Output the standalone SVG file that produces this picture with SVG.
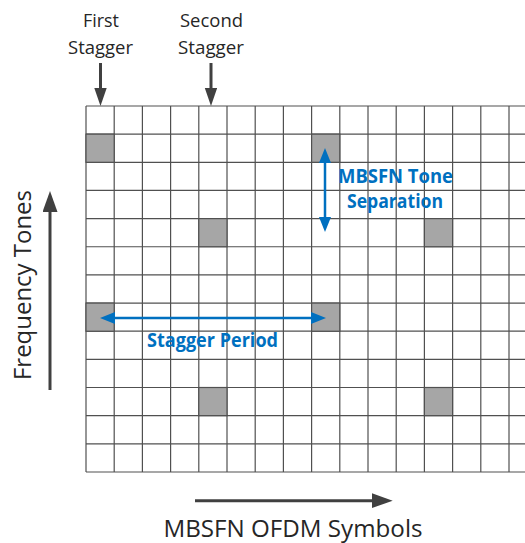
<svg xmlns="http://www.w3.org/2000/svg" width="525" height="543" viewBox="0 0 525 543">
  <defs>
    <style>
      .gl { stroke: #505050; stroke-width: 1.2; fill: none; }
      .cell { fill: #a6a6a6; stroke: #505050; stroke-width: 1.2; }
      .lbl { font-family: "Open Sans", "Noto Sans", "Liberation Sans", sans-serif; fill: #262626; }
      .blue { font-family: "Open Sans", "Noto Sans", "Liberation Sans", sans-serif; font-weight: bold; fill: #0070c0; }
      .dk { stroke: #404040; stroke-width: 3; fill: none; }
      .bl { stroke: #0070c0; stroke-width: 2.5; fill: none; }
    </style>
    <marker id="ahBig" markerUnits="userSpaceOnUse" markerWidth="22" markerHeight="16" refX="15" refY="7.5" orient="auto">
      <path d="M0,0 L21,7.5 L0,15 Z" fill="#404040"/>
    </marker>
    <marker id="ahSmall" markerUnits="userSpaceOnUse" markerWidth="19" markerHeight="13" refX="12" refY="6.2" orient="auto">
      <path d="M0,0 L18,6.2 L0,12.4 Z" fill="#404040"/>
    </marker>
    <marker id="ahBlue" markerUnits="userSpaceOnUse" markerWidth="16" markerHeight="12" refX="10" refY="6" orient="auto-start-reverse">
      <path d="M0,0 L15,6 L0,12 Z" fill="#0070c0"/>
    </marker>
  </defs>

  <rect x="0" y="0" width="525" height="543" fill="#ffffff"/>

  <g id="grid">
    <g class="gl">
      <line x1="86" y1="106" x2="525" y2="106"/>
      <line x1="86" y1="134.15" x2="525" y2="134.15"/>
      <line x1="86" y1="162.3" x2="525" y2="162.3"/>
      <line x1="86" y1="190.46" x2="525" y2="190.46"/>
      <line x1="86" y1="218.6" x2="525" y2="218.6"/>
      <line x1="86" y1="246.77" x2="525" y2="246.77"/>
      <line x1="86" y1="274.9" x2="525" y2="274.9"/>
      <line x1="86" y1="303.08" x2="525" y2="303.08"/>
      <line x1="86" y1="331.2" x2="525" y2="331.2"/>
      <line x1="86" y1="359.4" x2="525" y2="359.4"/>
      <line x1="86" y1="387.5" x2="525" y2="387.5"/>
      <line x1="86" y1="415.7" x2="525" y2="415.7"/>
      <line x1="86" y1="443.8" x2="525" y2="443.8"/>
      <line x1="86" y1="472" x2="525" y2="472"/>
      <line x1="86" y1="106" x2="86" y2="472"/>
      <line x1="114.2" y1="106" x2="114.2" y2="472"/>
      <line x1="142.4" y1="106" x2="142.4" y2="472"/>
      <line x1="170.6" y1="106" x2="170.6" y2="472"/>
      <line x1="198.8" y1="106" x2="198.8" y2="472"/>
      <line x1="227" y1="106" x2="227" y2="472"/>
      <line x1="255.2" y1="106" x2="255.2" y2="472"/>
      <line x1="283.4" y1="106" x2="283.4" y2="472"/>
      <line x1="311.6" y1="106" x2="311.6" y2="472"/>
      <line x1="339.8" y1="106" x2="339.8" y2="472"/>
      <line x1="368" y1="106" x2="368" y2="472"/>
      <line x1="396.2" y1="106" x2="396.2" y2="472"/>
      <line x1="424.4" y1="106" x2="424.4" y2="472"/>
      <line x1="452.6" y1="106" x2="452.6" y2="472"/>
      <line x1="480.8" y1="106" x2="480.8" y2="472"/>
      <line x1="509" y1="106" x2="509" y2="472"/>
    </g>
  </g>

  <g id="pilots">
    <rect class="cell" x="86" y="134.15" width="28.2" height="28.15"/>
    <rect class="cell" x="311.6" y="134.15" width="28.2" height="28.15"/>
    <rect class="cell" x="198.8" y="218.6" width="28.2" height="28.15"/>
    <rect class="cell" x="424.4" y="218.6" width="28.2" height="28.15"/>
    <rect class="cell" x="86" y="303.08" width="28.2" height="28.15"/>
    <rect class="cell" x="311.6" y="303.08" width="28.2" height="28.15"/>
    <rect class="cell" x="198.8" y="387.5" width="28.2" height="28.15"/>
    <rect class="cell" x="424.4" y="387.5" width="28.2" height="28.15"/>
  </g>

  <g id="connectors">
    <line class="dk" x1="100.5" y1="63" x2="100.5" y2="100" marker-end="url(#ahSmall)"/>
    <line class="dk" x1="211" y1="63" x2="211" y2="100" marker-end="url(#ahSmall)"/>
    <line class="dk" x1="50" y1="390" x2="50" y2="197" marker-end="url(#ahBig)"/>
    <line class="dk" x1="195" y1="500.7" x2="386.7" y2="500.7" marker-end="url(#ahBig)"/>
    <line class="bl" x1="325" y1="153" x2="325" y2="227" marker-start="url(#ahBlue)" marker-end="url(#ahBlue)"/>
    <line class="bl" x1="105" y1="318" x2="321" y2="318" marker-start="url(#ahBlue)" marker-end="url(#ahBlue)"/>
  </g>

  <g id="label-first-stagger">
    <text class="lbl" x="101" y="26.7" font-size="19" text-anchor="middle" textLength="36" lengthAdjust="spacingAndGlyphs">First</text>
    <text class="lbl" x="100.5" y="54" font-size="19" text-anchor="middle" textLength="65" lengthAdjust="spacingAndGlyphs">Stagger</text>
  </g>
  <g id="label-second-stagger">
    <text class="lbl" x="211.5" y="26.7" font-size="19" text-anchor="middle" textLength="63" lengthAdjust="spacingAndGlyphs">Second</text>
    <text class="lbl" x="211" y="54" font-size="19" text-anchor="middle" textLength="66" lengthAdjust="spacingAndGlyphs">Stagger</text>
  </g>
  <g id="label-tone-separation">
    <text class="blue" x="395.5" y="183" font-size="19.5" text-anchor="middle" textLength="115" lengthAdjust="spacingAndGlyphs">MBSFN Tone</text>
    <text class="blue" x="395" y="208" font-size="19.5" text-anchor="middle" textLength="96" lengthAdjust="spacingAndGlyphs">Separation</text>
  </g>
  <g id="label-stagger-period">
    <text class="blue" x="212.5" y="346.5" font-size="19.5" text-anchor="middle" textLength="131" lengthAdjust="spacingAndGlyphs">Stagger Period</text>
  </g>
  <g id="label-frequency">
    <text class="lbl" x="0" y="0" font-size="23.5" text-anchor="middle" textLength="190" lengthAdjust="spacingAndGlyphs" transform="translate(31,285) rotate(-90)">Frequency Tones</text>
  </g>
  <g id="label-symbols">
    <text class="lbl" x="293" y="536.5" font-size="23" text-anchor="middle" textLength="259" lengthAdjust="spacingAndGlyphs">MBSFN OFDM Symbols</text>
  </g>
</svg>
